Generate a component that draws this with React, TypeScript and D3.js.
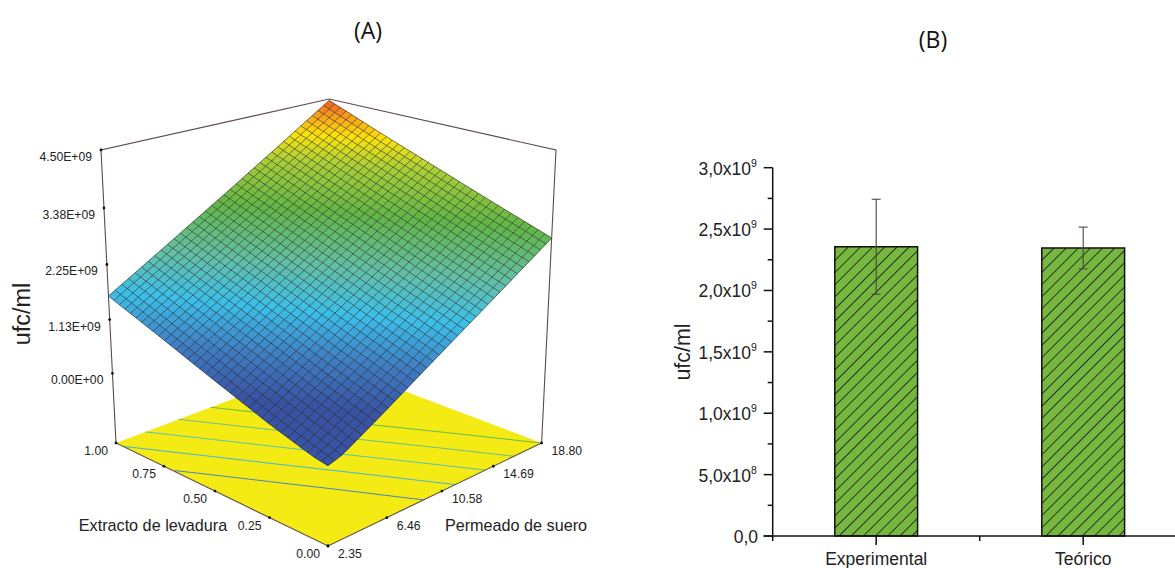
// Response surface (A) and bar comparison (B) for ufc/ml
import React from "react";
import * as d3 from "d3";

// ---- chart A data (z in units of 1e9 ufc/ml)
const permeadoNodes = [2.35, 3.35, 6.46, 10.58, 14.69, 18.8];
const extractoNodes = [0, 0.06, 0.25, 0.5, 0.75, 1];
const zTable = [
  [0.05, 0.14, 0.66, 1.37, 2.07, 2.78],
  [0.1, 0.24, 0.76, 1.47, 2.17, 2.88],
  [0.37, 0.54, 1.07, 1.78, 2.48, 3.19],
  [0.78, 0.95, 1.49, 2.2, 2.9, 3.61],
  [1.2, 1.37, 1.9, 2.61, 3.32, 4.03],
  [1.61, 1.78, 2.31, 3.02, 3.74, 4.47],
];
const zTicks = [0, 1.125, 2.25, 3.375, 4.5];
const zTickLabels = ["0.00E+00", "1.13E+09", "2.25E+09", "3.38E+09", "4.50E+09"];
const permeadoTicks = [2.35, 6.46, 10.58, 14.69, 18.8];
const permeadoLabels = ["2.35", "6.46", "10.58", "14.69", "18.80"];
const extractoTicks = [0, 0.25, 0.5, 0.75, 1];
const extractoLabels = ["0.00", "0.25", "0.50", "0.75", "1.00"];
const contourLevels = [1.13, 1.55, 1.96, 2.37, 2.78];
const colorStops = [0.6, 1.1, 1.65, 2.2, 2.9, 3.55, 3.95, 4.25, 4.5];
const colorValues = ["#3953a4", "#3f7cc2", "#3cbfe9", "#63bfa6", "#62b546", "#a9cf38", "#fde30c", "#f89b1c", "#ee4f24"];

// ---- chart B data
const categories = ["Experimental", "Teórico"];
const means = [2.356e9, 2.346e9];
const errors = [3.87e8, 1.7e8];
const yTicks = [0, 5e8, 1e9, 1.5e9, 2e9, 2.5e9, 3e9];
const yTickMantissa = ["0,0", "5,0x10", "1,0x10", "1,5x10", "2,0x10", "2,5x10", "3,0x10"];
const yTickExponent = ["", "8", "9", "9", "9", "9", "9"];
const yMinorTicks = [2.5e8, 7.5e8, 1.25e9, 1.75e9, 2.25e9, 2.75e9];

const sans = "'Liberation Sans', Arial, sans-serif";
const MESH = 36;

const uScale = d3.scaleLinear().domain([2.35, 18.8]).range([0, 1]);
const vScale = d3.scaleLinear().domain([0, 1]).range([0, 1]);
const wScale = d3.scaleLinear().domain([-1.5, 4.5]).range([0, 1]);
const colorScale = d3.scaleLinear<string>().domain(colorStops).range(colorValues).clamp(true);

// perspective camera of the box, u/v on the floor and w going up
function project(u: number, v: number, w: number): [number, number] {
  const d = 1 + 0.1412 * (u + v) - 0.0737 * w;
  return [
    (290.07 * u - 195.62 * v - 24.56 * w + 328) / d,
    (-40.45 * u - 40.45 * v - 345.42 * w + 546) / d,
  ];
}
const place = (p: number, e: number, z: number) => project(uScale(p), vScale(e), wScale(z));

// piecewise lookup between the values of the table
function zAt(p: number, e: number) {
  const column = zTable.map((row) => d3.scaleLinear().domain(permeadoNodes).range(row)(p));
  return d3.scaleLinear().domain(extractoNodes).range(column)(e);
}

const pMesh = d3.range(MESH + 1).map((i) => 2.35 + (16.45 * i) / MESH);
const eMesh = d3.range(MESH + 1).map((i) => i / MESH);
const line = d3.line();

const cells: { key: string; d: string; fill: string; order: number }[] = [];
d3.range(MESH).forEach((i) => {
  d3.range(MESH).forEach((j) => {
    const corners: [number, number][] = [
      [pMesh[i], eMesh[j]],
      [pMesh[i + 1], eMesh[j]],
      [pMesh[i + 1], eMesh[j + 1]],
      [pMesh[i], eMesh[j + 1]],
    ];
    const pts = corners.map(([p, e]) => place(p, e, zAt(p, e)));
    const mid = d3.mean(corners, ([p, e]) => zAt(p, e)) as number;
    cells.push({ key: `${i}-${j}`, d: line(pts) + "Z", fill: colorScale(mid), order: -(i + j) });
  });
});
cells.sort((a, b) => a.order - b.order);

const meshLines = [
  ...pMesh.map((p) => line(eMesh.map((e) => place(p, e, zAt(p, e))))),
  ...eMesh.map((e) => line(pMesh.map((p) => place(p, e, zAt(p, e))))),
];

// floor contour: walk through extracto and find where each row reaches the level
function contourPath(level: number) {
  const pts: [number, number][] = [];
  d3.range(0, 145).forEach((k) => {
    const e = k / 144;
    const row = permeadoNodes.map((p) => zAt(p, e));
    if (level < row[0] || level > row[row.length - 1]) return;
    const p = d3.scaleLinear().domain(row).range(permeadoNodes)(level);
    pts.push(project(uScale(p), vScale(e), 0));
  });
  return line(pts);
}

const floor = line([project(0, 0, 0), project(1, 0, 0), project(1, 1, 0), project(0, 1, 0)]) + "Z";

// chart B scales
const x = d3.scaleBand().domain(categories).range([772.7, 1186.7]).paddingInner(0.6).paddingOuter(0.3);
const y = d3.scaleLinear().domain([0, 3e9]).range([536, 167.7]);

function Surface() {
  const boxStroke = "#5b4c48";
  const leftTop = project(0, 1, 1);
  const leftFloor = project(0, 1, 0);
  const rightTop = project(1, 0, 1);
  const rightFloor = project(1, 0, 0);
  const backTop = project(1, 1, 1);
  const front = project(0, 0, 0);
  return (
    <g>
      <path d={floor} fill="#f4ea14" />
      {contourLevels.map((l) => (
        <path key={l} d={contourPath(l) as string} fill="none" stroke={colorScale(l)} strokeWidth={1} />
      ))}
      <path d={line([leftFloor, leftTop, backTop, rightTop, rightFloor, front])! + "Z"} fill="none" stroke={boxStroke} strokeWidth={1.1} />
      {cells.map((c) => (
        <path key={c.key} d={c.d} fill={c.fill} stroke={c.fill} strokeWidth={0.5} />
      ))}
      {meshLines.map((d, i) => (
        <path key={i} d={d as string} fill="none" stroke="#1c1c1c" strokeOpacity={0.72} strokeWidth={0.75} />
      ))}
      {zTicks.map((z, i) => {
        const [px, py] = project(0, 1, wScale(z));
        return (
          <g key={z}>
            <circle cx={px} cy={py} r={1.4} fill="#111" />
            <text x={px - 9} y={py + 11} textAnchor="end" fontFamily={sans} fontSize={12.2} fill="#222">
              {zTickLabels[i]}
            </text>
          </g>
        );
      })}
      {permeadoTicks.map((p, i) => {
        const [px, py] = project(uScale(p), 0, 0);
        return (
          <g key={p}>
            <circle cx={px} cy={py} r={1.4} fill="#111" />
            <text x={px + 10} y={py + 12} fontFamily={sans} fontSize={12.2} fill="#222">
              {permeadoLabels[i]}
            </text>
          </g>
        );
      })}
      {extractoTicks.map((e, i) => {
        const [px, py] = project(0, vScale(e), 0);
        return (
          <g key={e}>
            <circle cx={px} cy={py} r={1.4} fill="#111" />
            <text x={px - 8} y={py + 12} textAnchor="end" fontFamily={sans} fontSize={12.2} fill="#222">
              {extractoLabels[i]}
            </text>
          </g>
        );
      })}
      <text transform="translate(30,314) rotate(-90)" textAnchor="middle" fontFamily={sans} fontSize={23.5} fill="#222">
        ufc/ml
      </text>
      <text x={153} y={531} textAnchor="middle" fontFamily={sans} fontSize={16.2} fill="#222">
        Extracto de levadura
      </text>
      <text x={516} y={531} textAnchor="middle" fontFamily={sans} fontSize={16.2} fill="#222">
        Permeado de suero
      </text>
    </g>
  );
}

function Bars() {
  const left = 772.7;
  const centers = categories.map((c) => (x(c) as number) + x.bandwidth() / 2);
  const between = (centers[0] + centers[1]) / 2;
  return (
    <g>
      <defs>
        <pattern id="hatch" patternUnits="userSpaceOnUse" width={8.6} height={8.6} patternTransform="rotate(45)">
          <rect width={8.6} height={8.6} fill="#76b83f" />
          <line x1={0} y1={0} x2={0} y2={8.6} stroke="#111" strokeWidth={1.6} />
        </pattern>
      </defs>
      {categories.map((c, i) => (
        <g key={c}>
          <rect
            x={x(c)}
            y={y(means[i])}
            width={x.bandwidth()}
            height={y(0) - y(means[i])}
            fill="url(#hatch)"
            stroke="#111"
            strokeWidth={1.5}
          />
          <g stroke="#4d4541" strokeWidth={1.1}>
            <line x1={centers[i]} x2={centers[i]} y1={y(means[i] + errors[i])} y2={y(means[i] - errors[i])} />
            <line x1={centers[i] - 4.5} x2={centers[i] + 4.5} y1={y(means[i] + errors[i])} y2={y(means[i] + errors[i])} />
            <line x1={centers[i] - 4.5} x2={centers[i] + 4.5} y1={y(means[i] - errors[i])} y2={y(means[i] - errors[i])} />
          </g>
          <line x1={centers[i]} x2={centers[i]} y1={y(0)} y2={y(0) + 9} stroke="#111" strokeWidth={1.5} />
          <text x={centers[i]} y={565} textAnchor="middle" fontFamily={sans} fontSize={17.5} fill="#222">
            {c}
          </text>
        </g>
      ))}
      <line x1={left} x2={left} y1={y(3e9)} y2={y(0) + 5} stroke="#111" strokeWidth={1.5} />
      <line x1={left - 9} x2={1175} y1={y(0)} y2={y(0)} stroke="#111" strokeWidth={1.5} />
      <line x1={between} x2={between} y1={y(0)} y2={y(0) + 5} stroke="#111" strokeWidth={1.5} />
      {yTicks.map((t, i) => (
        <g key={t}>
          <line x1={left - 9} x2={left} y1={y(t)} y2={y(t)} stroke="#111" strokeWidth={1.5} />
          <text x={yTickExponent[i] ? 751 : 758} y={y(t) + 7} textAnchor="end" fontFamily={sans} fontSize={17.5} fill="#222">
            {yTickMantissa[i]}
          </text>
          <text x={751} y={y(t) - 1} fontFamily={sans} fontSize={10.5} fill="#222">
            {yTickExponent[i]}
          </text>
        </g>
      ))}
      {yMinorTicks.map((t) => (
        <line key={t} x1={left - 5} x2={left} y1={y(t)} y2={y(t)} stroke="#111" strokeWidth={1.5} />
      ))}
      <text transform="translate(690,352) rotate(-90)" textAnchor="middle" fontFamily={sans} fontSize={21.4} fill="#222">
        ufc/ml
      </text>
    </g>
  );
}

export default function App() {
  return (
    <svg width={1175} height={568} style={{ position: "absolute", left: 0, top: 0, display: "block" }}>
      <rect width={1175} height={568} fill="#fff" />
      <text x={368} y={39} textAnchor="middle" fontFamily="'Open Sans', sans-serif" fontSize={23} fill="#111">
        (A)
      </text>
      <text x={933} y={48} textAnchor="middle" fontFamily="'Open Sans', sans-serif" fontSize={23} fill="#111">
        (B)
      </text>
      <Surface />
      <Bars />
    </svg>
  );
}
